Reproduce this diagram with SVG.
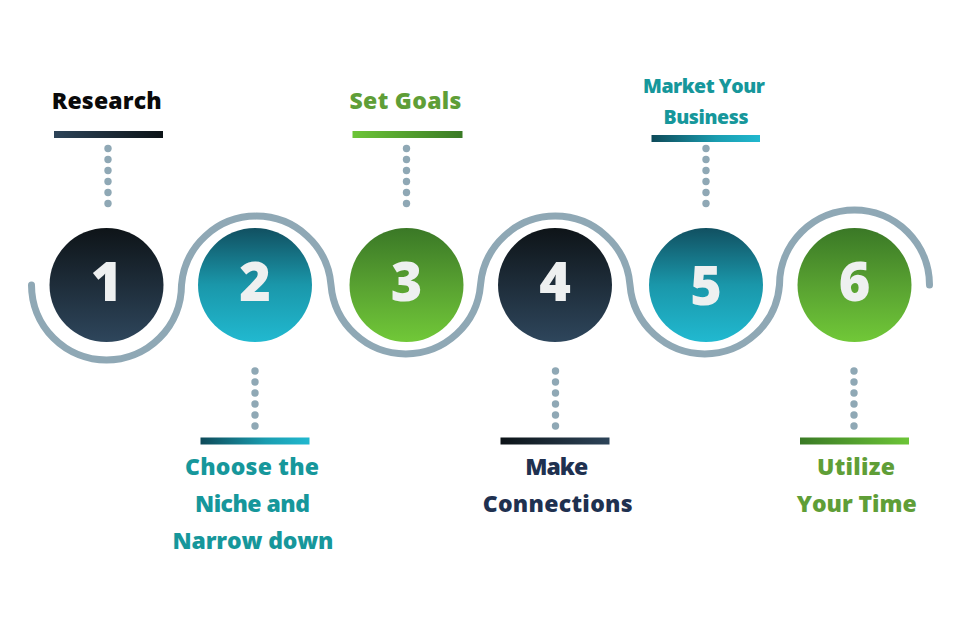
<svg xmlns="http://www.w3.org/2000/svg" width="960" height="636" viewBox="0 0 960 636">
<defs>
<linearGradient id="gDark" x1="0" y1="0" x2="0" y2="1"><stop offset="0" stop-color="#0e1418"/><stop offset="1" stop-color="#2e465c"/></linearGradient>
<linearGradient id="gTeal" x1="0" y1="0" x2="0" y2="1"><stop offset="0" stop-color="#115061"/><stop offset="0.5" stop-color="#1a97aa"/><stop offset="1" stop-color="#21b9d0"/></linearGradient>
<linearGradient id="gGreen" x1="0" y1="0" x2="0" y2="1"><stop offset="0" stop-color="#3a7826"/><stop offset="0.5" stop-color="#58a131"/><stop offset="1" stop-color="#71c838"/></linearGradient>
<linearGradient id="bDarkR" x1="0" y1="0" x2="1" y2="0"><stop offset="0" stop-color="#2d4459"/><stop offset="1" stop-color="#0c1317"/></linearGradient>
<linearGradient id="bDarkL" x1="0" y1="0" x2="1" y2="0"><stop offset="0" stop-color="#0c1317"/><stop offset="1" stop-color="#2d4459"/></linearGradient>
<linearGradient id="bGreenR" x1="0" y1="0" x2="1" y2="0"><stop offset="0" stop-color="#6cc537"/><stop offset="1" stop-color="#3a7a25"/></linearGradient>
<linearGradient id="bGreenL" x1="0" y1="0" x2="1" y2="0"><stop offset="0" stop-color="#3a7a25"/><stop offset="1" stop-color="#6cc537"/></linearGradient>
<linearGradient id="bTealL" x1="0" y1="0" x2="1" y2="0"><stop offset="0" stop-color="#0e4a59"/><stop offset="0.6" stop-color="#1a9db0"/><stop offset="1" stop-color="#21b8cf"/></linearGradient>
</defs>
<style>
.num{font-family:"Open Sans","Liberation Sans",sans-serif;font-weight:800;font-size:54px;fill:#eef0f0;text-anchor:middle}
.lbl{font-family:"Open Sans","Liberation Sans",sans-serif;font-weight:800;font-size:23px;text-anchor:middle}
.sm{font-size:19.5px}
.dot{fill:#8fa8b5}
.wave{fill:none;stroke:#8fa8b5;stroke-width:7;stroke-linecap:round}
</style>
<g id="connectors">
<path class="wave" d="M31.5,285 A75,75 0 0 0 181.5,285 A75,75 0 0 1 331,285 A75,75 0 0 0 480.5,285 A75,75 0 0 1 630,285 A75,75 0 0 0 779.5,285 A75,75 0 0 1 929.5,285"/>
<g id="dots1"><circle class="dot" cx="108" cy="148.5" r="3.7"/><circle class="dot" cx="108" cy="159.5" r="3.7"/><circle class="dot" cx="108" cy="170.5" r="3.7"/><circle class="dot" cx="108" cy="181.5" r="3.7"/><circle class="dot" cx="108" cy="192.5" r="3.7"/><circle class="dot" cx="108" cy="203.5" r="3.7"/></g>
<g id="dots3"><circle class="dot" cx="406.5" cy="148.5" r="3.7"/><circle class="dot" cx="406.5" cy="159.5" r="3.7"/><circle class="dot" cx="406.5" cy="170.5" r="3.7"/><circle class="dot" cx="406.5" cy="181.5" r="3.7"/><circle class="dot" cx="406.5" cy="192.5" r="3.7"/><circle class="dot" cx="406.5" cy="203.5" r="3.7"/></g>
<g id="dots5"><circle class="dot" cx="706" cy="148.5" r="3.7"/><circle class="dot" cx="706" cy="159.5" r="3.7"/><circle class="dot" cx="706" cy="170.5" r="3.7"/><circle class="dot" cx="706" cy="181.5" r="3.7"/><circle class="dot" cx="706" cy="192.5" r="3.7"/><circle class="dot" cx="706" cy="203.5" r="3.7"/></g>
<g id="dots2"><circle class="dot" cx="255" cy="371" r="3.7"/><circle class="dot" cx="255" cy="382" r="3.7"/><circle class="dot" cx="255" cy="393" r="3.7"/><circle class="dot" cx="255" cy="404" r="3.7"/><circle class="dot" cx="255" cy="415" r="3.7"/><circle class="dot" cx="255" cy="426" r="3.7"/></g>
<g id="dots4"><circle class="dot" cx="555.5" cy="371" r="3.7"/><circle class="dot" cx="555.5" cy="382" r="3.7"/><circle class="dot" cx="555.5" cy="393" r="3.7"/><circle class="dot" cx="555.5" cy="404" r="3.7"/><circle class="dot" cx="555.5" cy="415" r="3.7"/><circle class="dot" cx="555.5" cy="426" r="3.7"/></g>
<g id="dots6"><circle class="dot" cx="854" cy="371" r="3.7"/><circle class="dot" cx="854" cy="382" r="3.7"/><circle class="dot" cx="854" cy="393" r="3.7"/><circle class="dot" cx="854" cy="404" r="3.7"/><circle class="dot" cx="854" cy="415" r="3.7"/><circle class="dot" cx="854" cy="426" r="3.7"/></g>
</g>
<g id="node1">
<circle cx="106.5" cy="285" r="57" fill="url(#gDark)"/>
<text class="num" x="106.5" y="301">1</text>
<rect x="54" y="131" width="109" height="7" fill="url(#bDarkR)"/>
<text class="lbl" x="106.7" y="109" fill="#0a0a0a" textLength="110">Research</text>
</g>
<g id="node2">
<circle cx="255" cy="285" r="57" fill="url(#gTeal)"/>
<text class="num" x="255" y="301">2</text>
<rect x="200.5" y="437.5" width="109" height="7" fill="url(#bTealL)"/>
<text class="lbl" x="252" y="475" fill="#16979b" textLength="134">Choose the</text>
<text class="lbl" x="252.5" y="512" fill="#16979b" textLength="115">Niche and</text>
<text class="lbl" x="253" y="548.5" fill="#16979b" textLength="161">Narrow down</text>
</g>
<g id="node3">
<circle cx="406.5" cy="285" r="57" fill="url(#gGreen)"/>
<text class="num" x="406.5" y="301">3</text>
<rect x="352.5" y="131" width="110" height="7" fill="url(#bGreenR)"/>
<text class="lbl" x="405.5" y="109" fill="#5f9e37" textLength="112">Set Goals</text>
</g>
<g id="node4">
<circle cx="555" cy="285" r="57" fill="url(#gDark)"/>
<text class="num" x="555" y="301">4</text>
<rect x="500.5" y="437.5" width="109" height="7" fill="url(#bDarkL)"/>
<text class="lbl" x="556.7" y="475" fill="#1f3150" textLength="63">Make</text>
<text class="lbl" x="557.7" y="512" fill="#1f3150" textLength="150">Connections</text>
</g>
<g id="node5">
<circle cx="706" cy="285" r="57" fill="url(#gTeal)"/>
<text class="num" x="706" y="305">5</text>
<rect x="651.5" y="135" width="108.5" height="7" fill="url(#bTealL)"/>
<text class="lbl sm" x="704" y="93" fill="#16979b" textLength="122">Market Your</text>
<text class="lbl sm" x="706" y="123.5" fill="#16979b" textLength="85">Business</text>
</g>
<g id="node6">
<circle cx="854.5" cy="285" r="57" fill="url(#gGreen)"/>
<text class="num" x="854.5" y="301">6</text>
<rect x="800" y="437.5" width="109" height="7" fill="url(#bGreenL)"/>
<text class="lbl" x="856" y="475" fill="#5f9e37" textLength="78">Utilize</text>
<text class="lbl" x="856.7" y="512" fill="#5f9e37" textLength="120">Your Time</text>
</g>
</svg>
